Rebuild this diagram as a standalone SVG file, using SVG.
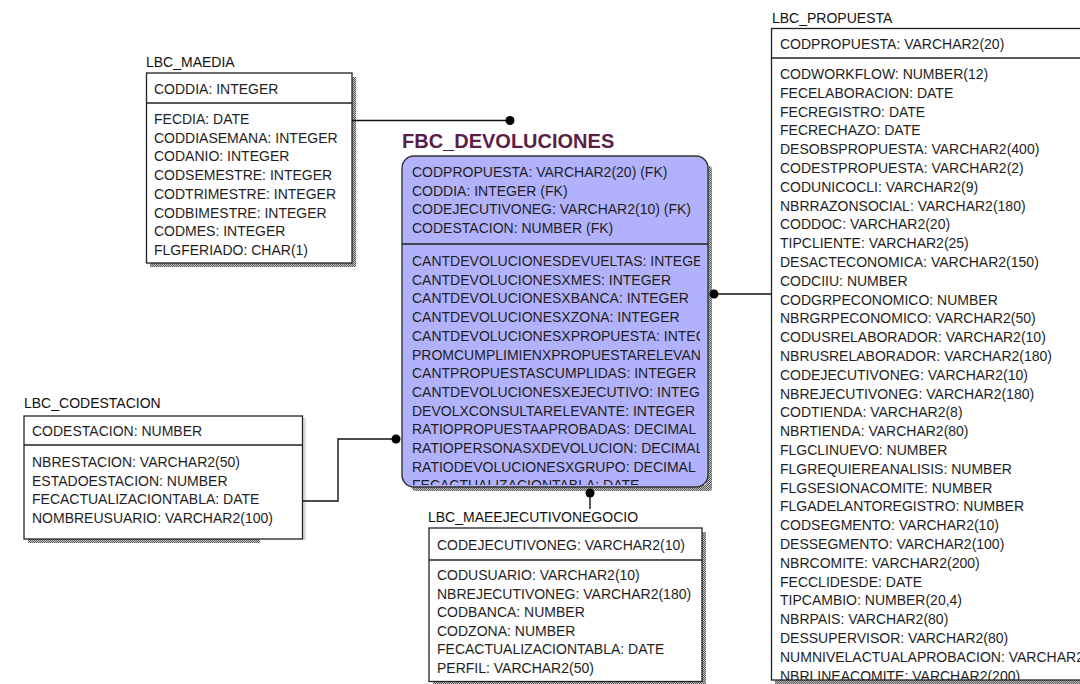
<svg xmlns="http://www.w3.org/2000/svg" width="1080" height="684" viewBox="0 0 1080 684">
<style>
.box{fill:#fff;stroke:#222;stroke-width:1.3}
.sep{stroke:#222;stroke-width:1.3}
.t{font-family:"Liberation Sans",Arial,sans-serif;font-size:14px;fill:#1e1e1e}
.ttl{font-family:"Liberation Sans",Arial,sans-serif;font-size:14px;fill:#111}
.ftitle{font-family:"Liberation Sans",Arial,sans-serif;font-size:20px;font-weight:bold;fill:#5a1e48}
.conn{fill:none;stroke:#111;stroke-width:1.4}
.sh{fill:url(#shade)}
</style>
<defs>
<pattern id="shade" width="2" height="2" patternUnits="userSpaceOnUse">
<rect width="2" height="2" fill="#c8c8c8"/>
<rect width="1" height="1" fill="#555"/>
<rect x="1" y="1" width="1" height="1" fill="#555"/>
</pattern>
<marker id="dot" viewBox="-5 -5 10 10" markerWidth="10" markerHeight="10" markerUnits="userSpaceOnUse" refX="0" refY="0">
<circle r="4.5" fill="#000"/>
</marker>
<clipPath id="cfbc"><rect x="402" y="156" width="298" height="329"/></clipPath>
<clipPath id="cprop"><rect x="772" y="59" width="310" height="621"/></clipPath>
</defs>
<rect width="1080" height="684" fill="#fff"/>

<g id="lbc_maedia">
<text class="ttl" x="146" y="67">LBC_MAEDIA</text>
<rect class="sh" x="352" y="77" width="4" height="190"/>
<rect class="sh" x="150" y="263" width="206" height="4"/>
<rect class="box" x="146.5" y="73" width="205.5" height="190"/>
<line class="sep" x1="146.5" y1="103" x2="352" y2="103"/>
<text class="t" x="154" y="94">CODDIA: INTEGER</text>
<text class="t" y="124">
<tspan x="154">FECDIA: DATE</tspan>
<tspan x="154" dy="18.7">CODDIASEMANA: INTEGER</tspan>
<tspan x="154" dy="18.7">CODANIO: INTEGER</tspan>
<tspan x="154" dy="18.7">CODSEMESTRE: INTEGER</tspan>
<tspan x="154" dy="18.7">CODTRIMESTRE: INTEGER</tspan>
<tspan x="154" dy="18.7">CODBIMESTRE: INTEGER</tspan>
<tspan x="154" dy="18.7">CODMES: INTEGER</tspan>
<tspan x="154" dy="18.7">FLGFERIADO: CHAR(1)</tspan>
</text>
</g>

<g id="fbc_devoluciones">
<text class="ftitle" x="402" y="148">FBC_DEVOLUCIONES</text>
<rect class="sh" x="706" y="166" width="6" height="325" rx="4"/>
<rect class="sh" x="412" y="485" width="300" height="6" rx="4"/>
<rect x="402" y="156" width="306" height="331" rx="12" fill="#b2b2fc" stroke="#333" stroke-width="1.4"/>
<line class="sep" x1="402" y1="244" x2="708" y2="244"/>
<g clip-path="url(#cfbc)">
<text class="t" y="177">
<tspan x="412">CODPROPUESTA: VARCHAR2(20) (FK)</tspan>
<tspan x="412" dy="18.7">CODDIA: INTEGER (FK)</tspan>
<tspan x="412" dy="18.7">CODEJECUTIVONEG: VARCHAR2(10) (FK)</tspan>
<tspan x="412" dy="18.7">CODESTACION: NUMBER (FK)</tspan>
</text>
<text class="t" y="266">
<tspan x="412">CANTDEVOLUCIONESDEVUELTAS: INTEGER</tspan>
<tspan x="412" dy="18.7">CANTDEVOLUCIONESXMES: INTEGER</tspan>
<tspan x="412" dy="18.7">CANTDEVOLUCIONESXBANCA: INTEGER</tspan>
<tspan x="412" dy="18.7">CANTDEVOLUCIONESXZONA: INTEGER</tspan>
<tspan x="412" dy="18.7">CANTDEVOLUCIONESXPROPUESTA: INTEGER</tspan>
<tspan x="412" dy="18.7">PROMCUMPLIMIENXPROPUESTARELEVANTE</tspan>
<tspan x="412" dy="18.7">CANTPROPUESTASCUMPLIDAS: INTEGER</tspan>
<tspan x="412" dy="18.7">CANTDEVOLUCIONESXEJECUTIVO: INTEGER</tspan>
<tspan x="412" dy="18.7">DEVOLXCONSULTARELEVANTE: INTEGER</tspan>
<tspan x="412" dy="18.7">RATIOPROPUESTAAPROBADAS: DECIMAL</tspan>
<tspan x="412" dy="18.7">RATIOPERSONASXDEVOLUCION: DECIMAL</tspan>
<tspan x="412" dy="18.7">RATIODEVOLUCIONESXGRUPO: DECIMAL</tspan>
<tspan x="412" dy="18.7">FECACTUALIZACIONTABLA: DATE</tspan>
</text>
</g>
</g>

<g id="lbc_codestacion">
<text class="ttl" x="24" y="408">LBC_CODESTACION</text>
<rect x="303" y="418" width="3" height="122" fill="#d4dce6"/>
<rect class="sh" x="28" y="539" width="232" height="4"/>
<rect class="box" x="24" y="416" width="278.5" height="123"/>
<line class="sep" x1="24" y1="445" x2="302.5" y2="445"/>
<text class="t" x="32" y="436">CODESTACION: NUMBER</text>
<text class="t" y="467">
<tspan x="32">NBRESTACION: VARCHAR2(50)</tspan>
<tspan x="32" dy="18.7">ESTADOESTACION: NUMBER</tspan>
<tspan x="32" dy="18.7">FECACTUALIZACIONTABLA: DATE</tspan>
<tspan x="32" dy="18.7">NOMBREUSUARIO: VARCHAR2(100)</tspan>
</text>
</g>

<g id="lbc_maeejecutivonegocio">
<text class="ttl" x="428" y="522">LBC_MAEEJECUTIVONEGOCIO</text>
<rect class="sh" x="702" y="532" width="4" height="152"/>
<rect class="sh" x="433" y="681" width="273" height="3"/>
<rect class="box" x="429" y="528" width="273" height="153.5"/>
<line class="sep" x1="429" y1="560" x2="702" y2="560"/>
<text class="t" x="437" y="550">CODEJECUTIVONEG: VARCHAR2(10)</text>
<text class="t" y="580">
<tspan x="437">CODUSUARIO: VARCHAR2(10)</tspan>
<tspan x="437" dy="18.6">NBREJECUTIVONEG: VARCHAR2(180)</tspan>
<tspan x="437" dy="18.6">CODBANCA: NUMBER</tspan>
<tspan x="437" dy="18.6">CODZONA: NUMBER</tspan>
<tspan x="437" dy="18.6">FECACTUALIZACIONTABLA: DATE</tspan>
<tspan x="437" dy="18.6">PERFIL: VARCHAR2(50)</tspan>
</text>
</g>

<g id="lbc_propuesta">
<text class="ttl" x="772" y="23">LBC_PROPUESTA</text>
<rect class="sh" x="775" y="680" width="310" height="4"/>
<rect class="box" x="771.5" y="28.5" width="320" height="651.5"/>
<line class="sep" x1="771.5" y1="58" x2="1085" y2="58"/>
<text class="t" x="780" y="49">CODPROPUESTA: VARCHAR2(20)</text>
<g clip-path="url(#cprop)">
<text class="t" y="79">
<tspan x="780">CODWORKFLOW: NUMBER(12)</tspan>
<tspan x="780" dy="18.8">FECELABORACION: DATE</tspan>
<tspan x="780" dy="18.8">FECREGISTRO: DATE</tspan>
<tspan x="780" dy="18.8">FECRECHAZO: DATE</tspan>
<tspan x="780" dy="18.8">DESOBSPROPUESTA: VARCHAR2(400)</tspan>
<tspan x="780" dy="18.8">CODESTPROPUESTA: VARCHAR2(2)</tspan>
<tspan x="780" dy="18.8">CODUNICOCLI: VARCHAR2(9)</tspan>
<tspan x="780" dy="18.8">NBRRAZONSOCIAL: VARCHAR2(180)</tspan>
<tspan x="780" dy="18.8">CODDOC: VARCHAR2(20)</tspan>
<tspan x="780" dy="18.8">TIPCLIENTE: VARCHAR2(25)</tspan>
<tspan x="780" dy="18.8">DESACTECONOMICA: VARCHAR2(150)</tspan>
<tspan x="780" dy="18.8">CODCIIU: NUMBER</tspan>
<tspan x="780" dy="18.8">CODGRPECONOMICO: NUMBER</tspan>
<tspan x="780" dy="18.8">NBRGRPECONOMICO: VARCHAR2(50)</tspan>
<tspan x="780" dy="18.8">CODUSRELABORADOR: VARCHAR2(10)</tspan>
<tspan x="780" dy="18.8">NBRUSRELABORADOR: VARCHAR2(180)</tspan>
<tspan x="780" dy="18.8">CODEJECUTIVONEG: VARCHAR2(10)</tspan>
<tspan x="780" dy="18.8">NBREJECUTIVONEG: VARCHAR2(180)</tspan>
<tspan x="780" dy="18.8">CODTIENDA: VARCHAR2(8)</tspan>
<tspan x="780" dy="18.8">NBRTIENDA: VARCHAR2(80)</tspan>
<tspan x="780" dy="18.8">FLGCLINUEVO: NUMBER</tspan>
<tspan x="780" dy="18.8">FLGREQUIEREANALISIS: NUMBER</tspan>
<tspan x="780" dy="18.8">FLGSESIONACOMITE: NUMBER</tspan>
<tspan x="780" dy="18.8">FLGADELANTOREGISTRO: NUMBER</tspan>
<tspan x="780" dy="18.8">CODSEGMENTO: VARCHAR2(10)</tspan>
<tspan x="780" dy="18.8">DESSEGMENTO: VARCHAR2(100)</tspan>
<tspan x="780" dy="18.8">NBRCOMITE: VARCHAR2(200)</tspan>
<tspan x="780" dy="18.8">FECCLIDESDE: DATE</tspan>
<tspan x="780" dy="18.8">TIPCAMBIO: NUMBER(20,4)</tspan>
<tspan x="780" dy="18.8">NBRPAIS: VARCHAR2(80)</tspan>
<tspan x="780" dy="18.8">DESSUPERVISOR: VARCHAR2(80)</tspan>
<tspan x="780" dy="18.8">NUMNIVELACTUALAPROBACION: VARCHAR2</tspan>
<tspan x="780" dy="18.8">NBRLINEACOMITE: VARCHAR2(200)</tspan>
</text>
</g>
</g>

<g id="connectors">
<path class="conn" d="M352,120.5 H510" marker-end="url(#dot)"/>
<path class="conn" d="M302.5,501 H338 V439 H396" marker-end="url(#dot)"/>
<path class="conn" d="M771.5,294 H714" marker-end="url(#dot)"/>
<path class="conn" d="M590,509 V493" marker-end="url(#dot)"/>
</g>
</svg>
